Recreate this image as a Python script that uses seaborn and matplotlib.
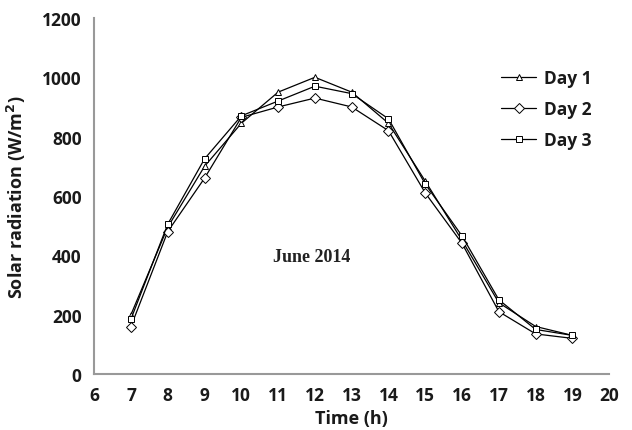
import matplotlib
matplotlib.use("Agg")
import matplotlib.pyplot as plt
import seaborn as sns
import pandas as pd

# Data
hours = [7, 8, 9, 10, 11, 12, 13, 14, 15, 16, 17, 18, 19]
day1 = [200, 495, 700, 845, 950, 1000, 950, 845, 650, 450, 240, 160, 130]
day2 = [160, 480, 660, 865, 900, 930, 900, 820, 610, 440, 210, 135, 120]
day3 = [185, 505, 725, 870, 920, 970, 945, 860, 640, 465, 250, 150, 130]
days = ["Day 1", "Day 2", "Day 3"]

df = pd.DataFrame({
    "Time": hours * 3,
    "Radiation": day1 + day2 + day3,
    "Day": [d for d in days for _ in hours],
})

sns.set_theme(style="white")
plt.rcParams['font.family'] = ['Open Sans', 'DejaVu Sans']
plt.rcParams['font.weight'] = 'bold'

fig = plt.figure(figsize=(6.32, 4.31), dpi=100)
ax = fig.add_axes([0.149, 0.130, 0.815, 0.826])

sns.lineplot(data=df, x="Time", y="Radiation", hue="Day", style="Day",
             palette=["black"] * 3, dashes=False,
             markers={"Day 1": "^", "Day 2": "D", "Day 3": "s"},
             markersize=5, markerfacecolor="white", markeredgecolor="black",
             markeredgewidth=0.7, linewidth=0.9, ax=ax)

ax.set_xlim(6, 20)
ax.set_ylim(0, 1200)
ax.set_xticks(range(6, 21))
ax.set_yticks(range(0, 1201, 200))
for s in ["top", "right"]:
    ax.spines[s].set_visible(False)
for s in ["left", "bottom"]:
    ax.spines[s].set_color("#999999")
    ax.spines[s].set_linewidth(1.5)
ax.tick_params(axis="both", direction="out", length=5, width=1,
               color="#999999", labelsize=12.5, pad=4, labelcolor="#1a1a1a")

ax.set_xlabel("Time (h)", fontsize=13, fontweight="bold", color="#1a1a1a", labelpad=3)
ax.set_ylabel("Solar radiation (W/m$^\\mathbf{2}$)", fontsize=13, fontweight="bold",
              color="#1a1a1a", labelpad=10)

ax.text(11.9, 395, "June 2014", family="Liberation Serif", fontsize=13,
        fontweight="bold", ha="center", va="center", color="#222222")

leg = ax.legend(loc="upper left", bbox_to_anchor=(0.76, 0.9), frameon=False,
                fontsize=12.5, handlelength=2.0, labelspacing=0.75, handletextpad=0.45)
for t in leg.get_texts():
    t.set_fontweight("bold")
    t.set_color("#1a1a1a")

for tick in ax.xaxis.get_major_ticks() + ax.yaxis.get_major_ticks():
    tick.label1.set_fontweight("bold")

fig.savefig("out.png", dpi=100)
